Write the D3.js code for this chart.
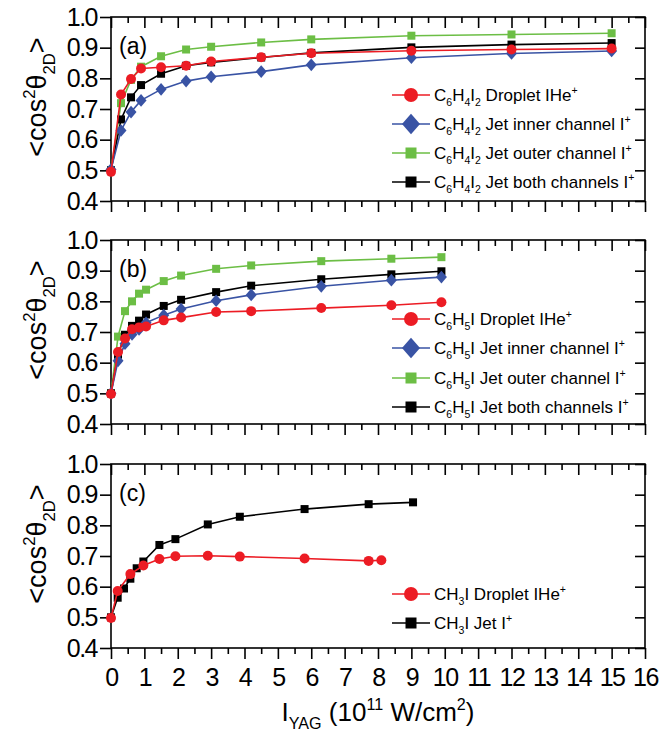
<!DOCTYPE html>
<html lang="en">
<head>
    <meta charset="utf-8">
    <title>Alignment vs YAG intensity</title>
    <script src="https://d3js.org/d3.v7.min.js"></script>
    <style>
        body{ margin: 0; background: #fff; }
        .tickT{ font-family: "Liberation Sans", Arial, sans-serif; font-size: 25px; letter-spacing: -1.5px; fill: #000; }
        .legendT{ font-family: "Liberation Sans", Arial, sans-serif; font-size: 17px; fill: #000; }
        .axisT{ font-family: "Liberation Sans", Arial, sans-serif; font-size: 28px; fill: #000; }
        .line{ fill: none; stroke-width: 1.6px; }
    </style>
</head>
<body>
    <div id="container"></div>
    <script type="text/javascript">
        // panel (a) C6H4I2
        var xA = [0, 0.3, 0.6, 0.9, 1.5, 2.25, 3, 4.5, 6, 9, 12, 15];
        var redA   = [0.495, 0.747, 0.798, 0.832, 0.836, 0.841, 0.855, 0.869, 0.882, 0.890, 0.894, 0.897];
        var blueA  = [0.503, 0.630, 0.690, 0.728, 0.764, 0.791, 0.805, 0.822, 0.844, 0.867, 0.881, 0.889];
        var greenA = [0.500, 0.719, 0.795, 0.838, 0.872, 0.894, 0.903, 0.917, 0.927, 0.939, 0.943, 0.947];
        var blackA = [0.500, 0.666, 0.738, 0.778, 0.815, 0.841, 0.852, 0.868, 0.883, 0.901, 0.910, 0.915];

        // panel (b) C6H5I
        var xB = [0, 0.21, 0.42, 0.63, 0.84, 1.05, 1.58, 2.1, 3.15, 4.2, 6.3, 8.4, 9.9];
        var redB   = [0.498, 0.635, 0.679, 0.709, 0.715, 0.718, 0.738, 0.747, 0.765, 0.768, 0.778, 0.787, 0.797];
        var blueB  = [0.500, 0.606, 0.662, 0.692, 0.708, 0.730, 0.755, 0.775, 0.802, 0.821, 0.849, 0.869, 0.879];
        var greenB = [0.500, 0.685, 0.768, 0.800, 0.825, 0.838, 0.866, 0.884, 0.906, 0.917, 0.931, 0.939, 0.944];
        var blackB = [0.500, 0.626, 0.691, 0.720, 0.737, 0.757, 0.785, 0.805, 0.830, 0.851, 0.872, 0.888, 0.898];

        // panel (c) CH3I
        var xRedC   = [0, 0.2, 0.58, 0.97, 1.45, 1.93, 2.9, 3.86, 5.8, 7.72, 8.1];
        var redC    = [0.498, 0.586, 0.641, 0.669, 0.690, 0.699, 0.701, 0.698, 0.692, 0.684, 0.686];
        var xBlackC = [0, 0.2, 0.39, 0.58, 0.77, 0.97, 1.45, 1.93, 2.9, 3.86, 5.8, 7.72, 9.05];
        var blackC  = [0.500, 0.564, 0.594, 0.626, 0.660, 0.682, 0.736, 0.755, 0.803, 0.828, 0.853, 0.869, 0.875];

        var xTicks = d3.range(0, 17, 1);
        var xMinor = d3.range(0.5, 16, 1);
        var yTicks = [0.4, 0.5, 0.6, 0.7, 0.8, 0.9, 1.0];
        var panelNames = ['(a)', '(b)', '(c)'];

        var color = {red: '#ec1c24', blue: '#3953a4', green: '#6cbe45', black: '#000000'};

        var width = 670, height = 737;
        var svg = d3.select('#container').append('svg')
                    .attr('width', width).attr('height', height);

        var xScale = d3.scaleLinear().domain([0, 16]).range([111, 645]);
        var panels = [{top: 17, bottom: 201}, {top: 240, bottom: 424}, {top: 464, bottom: 648}];

        // text with sub/superscripts
        function rich(text, parts, size){
            var shift = 0;
            parts.forEach(function(p){
                var k = p[1] || 'n';
                var target = k == 'sub' ? size*0.32 : (k == 'sup' ? -size*0.42 : 0);
                text.append('tspan')
                    .attr('dy', target - shift)
                    .style('font-size', (k == 'n' ? size : size*0.62) + 'px')
                    .text(p[0]);
                shift = target;
            });
        }

        function marker(g, shape, x, y, s, fill){
            if (shape == 'circle'){
                g.append('circle').attr('cx', x).attr('cy', y).attr('r', s).attr('fill', fill);
            } else if (shape == 'square'){
                g.append('rect').attr('x', x-s).attr('y', y-s).attr('width', 2*s).attr('height', 2*s).attr('fill', fill);
            } else {
                g.append('path').attr('d', 'M'+x+','+(y-s*1.15)+'L'+(x+s)+','+y+'L'+x+','+(y+s*1.15)+'L'+(x-s)+','+y+'Z')
                 .attr('fill', fill);
            }
        }

        var sizes = {circle: 5, square: 4, diamond: 5.5};
        var legSizes = {circle: 7, square: 5.5, diamond: 9};

        var series = [
            [
                {x: xA, y: greenA, c: color.green, m: 'square'},
                {x: xA, y: blackA, c: color.black, m: 'square'},
                {x: xA, y: blueA, c: color.blue, m: 'diamond'},
                {x: xA, y: redA, c: color.red, m: 'circle'}
            ],
            [
                {x: xB, y: greenB, c: color.green, m: 'square'},
                {x: xB, y: blackB, c: color.black, m: 'square'},
                {x: xB, y: blueB, c: color.blue, m: 'diamond'},
                {x: xB, y: redB, c: color.red, m: 'circle'}
            ],
            [
                {x: xBlackC, y: blackC, c: color.black, m: 'square'},
                {x: xRedC, y: redC, c: color.red, m: 'circle'}
            ]
        ];

        var legends = [
            [
                {c: color.red, m: 'circle', t: [['C'],['6','sub'],['H'],['4','sub'],['I'],['2','sub'],[' Droplet IHe'],['+','sup']]},
                {c: color.blue, m: 'diamond', t: [['C'],['6','sub'],['H'],['4','sub'],['I'],['2','sub'],[' Jet inner channel I'],['+','sup']]},
                {c: color.green, m: 'square', t: [['C'],['6','sub'],['H'],['4','sub'],['I'],['2','sub'],[' Jet outer channel I'],['+','sup']]},
                {c: color.black, m: 'square', t: [['C'],['6','sub'],['H'],['4','sub'],['I'],['2','sub'],[' Jet both channels I'],['+','sup']]}
            ],
            [
                {c: color.red, m: 'circle', t: [['C'],['6','sub'],['H'],['5','sub'],['I Droplet IHe'],['+','sup']]},
                {c: color.blue, m: 'diamond', t: [['C'],['6','sub'],['H'],['5','sub'],['I Jet inner channel I'],['+','sup']]},
                {c: color.green, m: 'square', t: [['C'],['6','sub'],['H'],['5','sub'],['I Jet outer channel I'],['+','sup']]},
                {c: color.black, m: 'square', t: [['C'],['6','sub'],['H'],['5','sub'],['I Jet both channels I'],['+','sup']]}
            ],
            [
                {c: color.red, m: 'circle', t: [['CH'],['3','sub'],['I Droplet IHe'],['+','sup']]},
                {c: color.black, m: 'square', t: [['CH'],['3','sub'],['I Jet I'],['+','sup']]}
            ]
        ];
        var legendY = [[95, 124, 153, 182], [319, 348, 378, 407], [594, 623]];

        panels.forEach(function(p, i){
            var yScale = d3.scaleLinear().domain([0.4, 1.0]).range([p.bottom, p.top]);
            var g = svg.append('g');

            // axes
            var bottom = g.append('g').attr('transform', 'translate(0,' + p.bottom + ')')
                          .call(d3.axisBottom(xScale).tickValues(xTicks).tickSize(11).tickSizeOuter(0)
                                .tickFormat(i == 2 ? d3.format('d') : ''));
            g.append('g').attr('transform', 'translate(0,' + p.bottom + ')')
             .call(d3.axisBottom(xScale).tickValues(xMinor).tickSize(6).tickFormat(''));
            g.append('g').attr('transform', 'translate(0,' + p.top + ')')
             .call(d3.axisTop(xScale).tickValues(xTicks).tickSize(-11).tickSizeOuter(0).tickFormat(''));
            g.append('g').attr('transform', 'translate(0,' + p.top + ')')
             .call(d3.axisTop(xScale).tickValues(xMinor).tickSize(-6).tickFormat(''));
            g.append('g').attr('transform', 'translate(' + xScale(0) + ',0)')
             .call(d3.axisLeft(yScale).tickValues(yTicks).tickSize(11).tickSizeOuter(0)
                   .tickFormat(d3.format('.1f')));
            g.append('g').attr('transform', 'translate(' + xScale(16) + ',0)')
             .call(d3.axisRight(yScale).tickValues(yTicks).tickSize(-10).tickSizeOuter(0).tickFormat(''));

            g.selectAll('.domain').remove();
            g.selectAll('.tick line').attr('stroke', '#000').attr('stroke-width', 1.6);
            g.selectAll('.tick text').attr('class', 'tickT').attr('font-family', null).attr('font-size', null);
            bottom.selectAll('.tick text').attr('dy', '0.95em');

            g.append('rect')
             .attr('x', xScale(0)).attr('y', p.top)
             .attr('width', xScale(16) - xScale(0)).attr('height', p.bottom - p.top)
             .attr('fill', 'none').attr('stroke', '#000').attr('stroke-width', 1.6);

            g.append('text').attr('class', 'axisT').style('font-size', '23px')
             .attr('x', xScale(0) + 8).attr('y', p.top + 37).text(panelNames[i]);

            // y title
            var yt = g.append('text').attr('class', 'axisT').attr('text-anchor', 'middle')
                      .attr('transform', 'translate(46,' + ((p.top + p.bottom)/2 - 12) + ') rotate(-90)');
            rich(yt, [['<cos'], ['2', 'sup'], ['\u03b8'], ['2D', 'sub'], ['>']], 27);

            // series
            series[i].forEach(function(s){
                var pts = s.x.map(function(d, j){ return [d, s.y[j]]; });
                var line = d3.line().x(function(d){ return xScale(d[0]); }).y(function(d){ return yScale(d[1]); });
                g.append('path').attr('class', 'line').attr('stroke', s.c).attr('d', line(pts));
                pts.forEach(function(d){
                    marker(g, s.m, xScale(d[0]), yScale(d[1]), sizes[s.m], s.c);
                });
            });

            // legend
            legends[i].forEach(function(l, j){
                var ly = legendY[i][j];
                g.append('line').attr('x1', 392).attr('x2', 430).attr('y1', ly).attr('y2', ly)
                 .attr('stroke', l.c).attr('stroke-width', 1.6);
                marker(g, l.m, 411, ly, legSizes[l.m], l.c);
                var t = g.append('text').attr('class', 'legendT').attr('x', 434).attr('y', ly + 6);
                rich(t, l.t, 17);
            });
        });

        // x title
        var xt = svg.append('text').attr('class', 'axisT').attr('text-anchor', 'middle')
                    .attr('x', 378).attr('y', 721);
        rich(xt, [['I'], ['YAG', 'sub'], [' (10'], ['11', 'sup'], [' W/cm'], ['2', 'sup'], [')']], 26);
    </script>
</body>
</html>
